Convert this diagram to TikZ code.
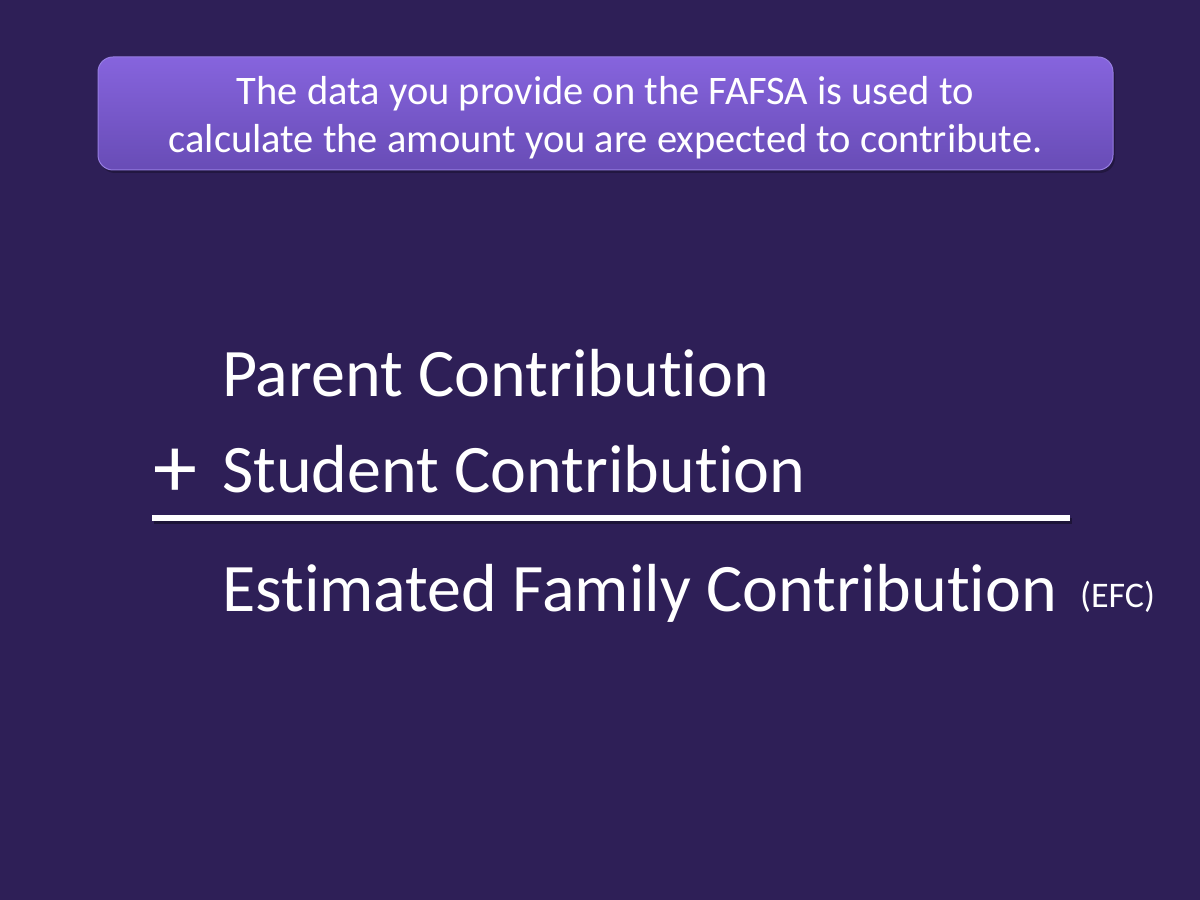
\documentclass[tikz,border=0pt]{standalone}
\usepackage{fontspec}
\setmainfont{Carlito}[Ligatures={NoCommon}]
\definecolor{bgpurple}{RGB}{46,31,87}
\definecolor{boxtop}{RGB}{134,100,221}
\definecolor{boxbot}{RGB}{104,76,182}
\definecolor{boxedge}{RGB}{150,125,225}
\begin{document}
\begin{tikzpicture}[x=1pt,y=1pt,
  bigtext/.style={text=white,inner sep=0pt,anchor=base west,font=\fontsize{68}{80}\selectfont},
  toptext/.style={text=white,align=center,font=\fontsize{40.5}{48}\selectfont}]
\fill[bgpurple] (0,0) rectangle (1200,900);
\useasboundingbox (0,0) rectangle (1200,900);
% shadow
\fill[black,opacity=0.25,rounded corners=15pt] (100,727) rectangle (1115,840);
\shade[top color=boxtop,bottom color=boxbot,rounded corners=15pt,draw=boxedge,line width=1pt]
  (98,730) rectangle (1113,843);
\node[toptext] (top) at (605.5,782) {The data you provide on the FAFSA is used to\\calculate the amount you are expected to contribute.};
\node[bigtext] (parent) at (222,503) {Parent Contribution};
\node[bigtext] (student) at (222,407) {Student Contribution};
\node[text=white,inner sep=0pt,anchor=base west,font=\fontsize{88}{100}\selectfont] (plus) at (153,402) {+};
\coordinate (lineL) at (152,382);
\coordinate (lineR) at (1070,382);
\draw[black,opacity=0.35,line width=6pt] ([shift={(2,-3)}]lineL) -- ([shift={(2,-3)}]lineR);
\draw[white,line width=6pt] (lineL) -- (lineR);
\node[bigtext] (efc) at (222,288) {Estimated Family Contribution};
\node[text=white,inner sep=0pt,anchor=base west,font=\fontsize{36}{40}\selectfont] (abbr) at (1080,292) {(EFC)};
\end{tikzpicture}
\end{document}
